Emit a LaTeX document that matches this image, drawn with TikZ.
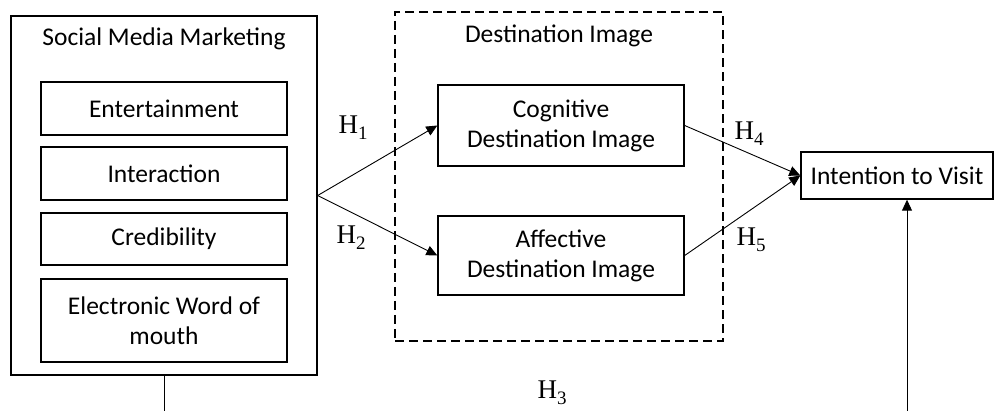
\documentclass[tikz,border=0pt]{standalone}
\usepackage[no-math]{fontspec}
\setmainfont{Carlito}
\newfontfamily\hfont{Liberation Serif}
\usetikzlibrary{arrows.meta}
\newcommand{\hyplabel}[1]{{\hfont H\raisebox{-6pt}{\fontsize{19}{20}\selectfont #1}}}
\begin{document}
\begin{tikzpicture}[x=1pt,y=-1pt,
  box/.style={draw,line width=1.4pt,rectangle,inner sep=0pt,align=center,
    font=\fontsize{25.5}{30}\selectfont},
  lbl/.style={font=\fontsize{25.5}{30}\selectfont,inner sep=0pt},
  hyp/.style={font=\fontsize{27}{30}\selectfont,inner sep=0pt},
  arr/.style={line width=0.9pt,-{Triangle[length=11pt,width=10pt]}}]
\useasboundingbox (0,0) rectangle (995,411);
% Social media marketing
\node[box,minimum width=306pt,minimum height=359pt] (smm) at (164,195.5) {};
\node[lbl] (smmt) at (164,39) {Social Media Marketing};
\node[box,minimum width=246pt,minimum height=53pt] (ent) at (164,108.5) {Entertainment};
\node[box,minimum width=246pt,minimum height=53pt] (int) at (164,173.5) {Interaction};
\node[box,minimum width=246pt,minimum height=52pt] (cred) at (164,239) {Credibility};
\node[box,minimum width=246pt,minimum height=83pt] (ewom) at (164,320.5) {Electronic Word of\\mouth};
% Destination image
\node[draw,line width=1.1pt,dash pattern=on 9pt off 5pt,minimum width=328pt,minimum height=329pt,inner sep=0pt] (dest) at (559,176.5) {};
\node[lbl] (destt) at (559,36) {Destination Image};
\node[box,minimum width=246pt,minimum height=81pt] (cog) at (561,125.5) {Cognitive\\Destination Image};
\node[box,minimum width=246pt,minimum height=79pt] (aff) at (561,255.5) {Affective\\Destination Image};
% Intention
\node[box,minimum width=192pt,minimum height=47pt] (intent) at (897,175.5) {Intention to Visit};
% connectors
\draw[arr] (smm.east) -- (cog.west);
\draw[arr] (smm.east) -- (aff.west);
\draw[arr] (cog.east) -- (intent.west);
\draw[arr] (aff.east) -- (intent.west);
\coordinate (b1) at (164,411);
\coordinate (b2) at (907,411);
\draw[line width=0.9pt] (smm.south) -- (b1);
\draw[arr] (b2) -- (b2 |- intent.south);
% labels
\node[hyp] (h1) at (353,128) {\hyplabel{1}};
\node[hyp] (h2) at (351,238) {\hyplabel{2}};
\node[hyp] (h3) at (552,393) {\hyplabel{3}};
\node[hyp] (h4) at (749,134) {\hyplabel{4}};
\node[hyp] (h5) at (751,240) {\hyplabel{5}};
\end{tikzpicture}
\end{document}
